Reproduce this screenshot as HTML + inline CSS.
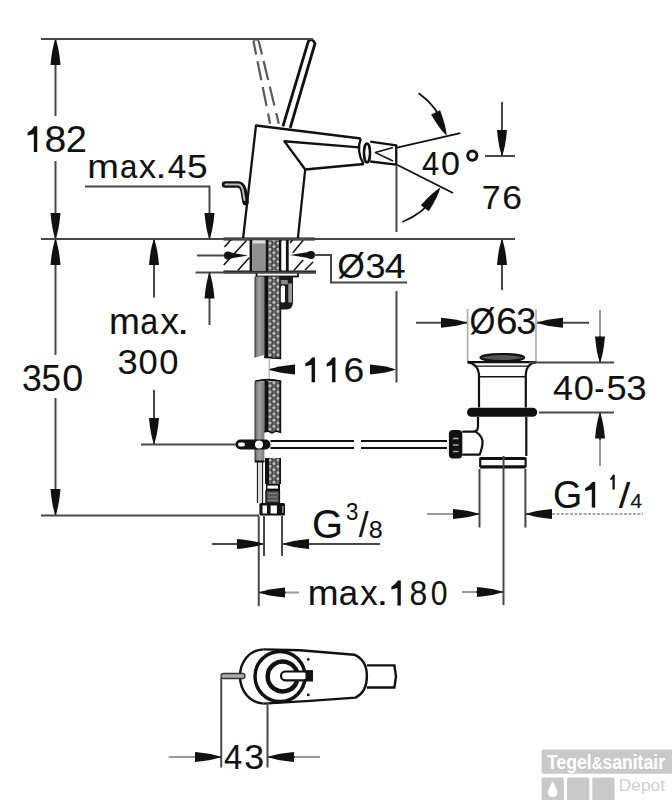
<!DOCTYPE html>
<html><head><meta charset="utf-8"><style>
html,body{margin:0;padding:0;background:#fff;width:672px;height:800px;overflow:hidden}
svg{display:block}
text{font-family:"Liberation Sans",sans-serif;fill:#111;stroke:#111;stroke-width:0.1}
.d{stroke:#484848;stroke-width:2;fill:none}
.o{stroke:#111;fill:none}
.a{fill:#111;stroke:none}
.g1{fill:#111;stroke:#111;stroke-width:0.1;stroke-linejoin:round}
</style></head><body>
<svg width="672" height="800" viewBox="0 0 672 800">

<defs>
<pattern id="kn" x="268" y="0" width="8" height="6.2" patternUnits="userSpaceOnUse">
<rect width="8" height="6.2" fill="#484848"/>
<circle cx="2" cy="1.55" r="1.6" fill="#bdbdbd"/>
<circle cx="6" cy="4.65" r="1.6" fill="#bdbdbd"/>
<circle cx="6" cy="1.55" r="1" fill="#777"/>
<circle cx="2" cy="4.65" r="1" fill="#777"/>
</pattern>
<linearGradient id="rodg" x1="0" x2="1" y1="0" y2="0">
<stop offset="0" stop-color="#6a6a6a"/><stop offset="0.45" stop-color="#a0a0a0"/><stop offset="1" stop-color="#7a7a7a"/>
</linearGradient>
</defs>
<!-- ===== lever ===== -->
<g fill="none" stroke="#5a5a5a" stroke-width="2.2" stroke-dasharray="13.8 6.9 19.4 6.9 19.4 7.6 20">
<path d="M253.4 41 L270.1 123.7"/>
<path d="M258.7 41 L278.8 123.7"/>
</g>
<path d="M253.4 41Q256 38 258.7 41" fill="none" stroke="#666" stroke-width="1.8"/>
<path class="o" d="M282.9 126.4L308.3 41.4Q312 37 315 43.5L290.2 127.8" stroke-width="2.8"/>
<!-- ===== faucet body ===== -->
<g class="o" stroke-width="2.3" stroke-linejoin="round">
<path d="M243 239L256 125.5L360.8 138.5"/>
<path d="M359 147.4L284.4 141.25L305.2 169.5L364 164"/>
<path d="M305.2 169.5L297.8 239"/>
<path d="M360.8 138.5Q356 151 363.5 164"/>
<path d="M370.2 141.7L396.25 145.3L396.25 164.6L370.2 161.5"/>
<path d="M393 147.4L375.4 152.6L393 161" stroke-width="1.6"/>
</g>
<ellipse cx="367" cy="153" rx="3" ry="9.5" fill="none" stroke="#111" stroke-width="2.6"/>
<!-- angle lines -->
<g class="o" stroke-width="1.8">
<path d="M397 147.6L460.3 133.1"/>
<path d="M397 164.8L453 193"/>
<path d="M418.6 93.2Q439 108 444 128"/>
<path d="M402.3 222Q424 213 434 197"/>
</g>
<!-- pop-up knob hook -->
<path d="M225 184.5H238.5Q242 185 243.5 190L245.5 202" fill="none" stroke="#111" stroke-width="6.5" stroke-linecap="round"/>
<path d="M225.5 184.5H238.5Q241.5 185 242.8 190L244.5 200" fill="none" stroke="#bbb" stroke-width="2" stroke-linecap="round"/>
<!-- ===== deck hatch blocks ===== -->
<g class="o" stroke-width="1.5">
<path d="M224.4 247L231 239.7M223.7 265L246.5 240.4M237.8 270.5L249.2 257.8"/>
<path d="M292.8 252.7L303.2 240.2M293.8 270.4L303.2 260M305 270L313 262M290 243L293 239.5"/>
</g>
<g class="o" stroke-width="2.8">
<path d="M223.5 239H315M223.5 272H316"/>
<path d="M251 239V272M287.3 239V272"/>
</g>
<circle cx="228" cy="255.5" r="4.1" class="a"/>
<path class="a" d="M226 251.8L248 255.5L226 259.2Z"/>
<circle cx="311" cy="255" r="4.1" class="a"/>
<path class="a" d="M313 251.3L290 255L313 258.7Z"/>
<!-- shank in deck -->
<rect x="252.7" y="240.5" width="13" height="30" fill="#8f8f8f"/>
<rect x="252.7" y="240.5" width="13" height="3" fill="#ddd"/>
<rect x="268.3" y="240.5" width="11" height="30" fill="url(#kn)"/>
<path d="M267 239V272M280.3 239V272" stroke="#111" stroke-width="2.6"/>
<rect x="281.5" y="242" width="3.5" height="28" fill="#fff"/>
<!-- washer -->
<rect x="256.5" y="272.5" width="41.5" height="4" fill="#fff" stroke="#111" stroke-width="1.8"/>
<!-- shank below deck -->
<path d="M255 276.5H264.3V355L255 357.5Z" fill="url(#rodg)"/>
<path d="M255 276.5V357.5" stroke="#333" stroke-width="1"/>
<rect x="264.3" y="276.5" width="4.2" height="81.5" fill="#111"/>
<rect x="268.5" y="276.5" width="11.3" height="81.5" fill="url(#kn)"/>
<rect x="279.6" y="276.5" width="1.6" height="81.5" fill="#111"/>
<path d="M264.3 357.5L281.2 358.5" stroke="#111" stroke-width="1.4"/>
<!-- pop-up guide -->
<path d="M279.5 276.5H293V302Q293 309.6 286 309.6H279.5Z" fill="#1a1a1a"/>
<rect x="280.8" y="280" width="7" height="4.3" fill="#888"/>
<rect x="280.8" y="285.4" width="4.2" height="17" rx="1.5" fill="#fff"/>
<rect x="288.3" y="283.5" width="3.7" height="19" fill="#9a9a9a"/>
<!-- break line -->
<path d="M269.25 358V380" stroke="#bbb" stroke-width="1.5"/>
<!-- hose after break -->
<path d="M255 381.5Q268 378 281.2 381.5" stroke="#111" stroke-width="2.2" fill="none"/>
<path d="M255 381.5H264.4V462H255Z" fill="url(#rodg)"/>
<path d="M255 381.5V462" stroke="#333" stroke-width="1"/>
<rect x="264.4" y="381" width="3.6" height="51" fill="#111"/>
<rect x="268" y="381.5" width="12" height="50.5" fill="url(#kn)"/>
<rect x="279.6" y="381" width="1.6" height="51" fill="#111"/>
<path d="M264.4 432L268 431L272 433L276 431L281.2 432.5" stroke="#111" stroke-width="1.4" fill="none"/>
<!-- narrow tube below knob -->
<path d="M257.5 462V503M262.5 462V503" stroke="#222" stroke-width="1.3"/>
<rect x="258.2" y="462" width="3.6" height="41" fill="#ddd"/>
<path d="M255 461.5H264.4" stroke="#111" stroke-width="2"/>
<rect x="265" y="458" width="4" height="26" fill="#111"/>
<rect x="269" y="458" width="11" height="26" fill="url(#kn)"/>
<rect x="279.4" y="458" width="1.6" height="26" fill="#111"/>
<rect x="266" y="484" width="14" height="6.5" fill="#111"/>
<rect x="267.5" y="485.6" width="10.5" height="3" fill="#fff"/>
<rect x="266" y="490.5" width="13.4" height="12.5" fill="#555" stroke="#111" stroke-width="1.4"/>
<path d="M268.5 493.5H277M268.5 497H277M268.5 500.5H277" stroke="#888" stroke-width="1.2"/>
<rect x="259.4" y="503" width="25.6" height="12.6" fill="#111" rx="1.5"/>
<rect x="262.5" y="505.5" width="4.5" height="8" fill="#fff"/>
<rect x="270.6" y="505.5" width="6.3" height="8" fill="#fff"/>
<rect x="282" y="506" width="1.6" height="7" fill="#888"/>
<!-- rod knob -->
<path d="M270.5 441H447M270.5 448H447" stroke="#111" stroke-width="1.8"/>
<rect x="354" y="438" width="7" height="14" fill="#fff"/>
<rect x="235.5" y="439.5" width="35" height="10" rx="5" fill="#111"/>
<rect x="238" y="442.6" width="7" height="4" rx="2" fill="#fff"/>
<circle cx="259" cy="444.5" r="4" fill="#fff"/>
<!-- ===== drain ===== -->
<path d="M467.6 309V362M536 309V362" stroke="#aaa" stroke-width="1.6"/>
<ellipse cx="502.3" cy="357.6" rx="21.8" ry="3.6" fill="#555" stroke="#111" stroke-width="2.2"/>
<g class="o" stroke-width="2.2">
<path d="M467.6 362.1H536"/>
<path d="M467.6 362.1Q478 364 479 374.2V407.5M536 362.1Q526 364 525.8 374.2V407.5"/>
<path d="M475 366.2H530" stroke-width="1.2"/>
<path d="M479 376.7H525.8" stroke-width="1.6"/>
<path d="M478 417V426.4Q478 431.6 473 431.6H462.3M462.3 454.6H479.4M475.7 431.6Q484 437 482.4 445Q481 452 479.4 455.4"/>
<path d="M526.3 417V456"/>
<path d="M480.2 457.6V467.3M525.6 457.6V467.3"/>
</g>
<rect x="467" y="407.7" width="70.2" height="9" rx="4.5" fill="#111"/>
<path d="M480.2 458.5H525.6M480.2 466.8H525.6" stroke="#111" stroke-width="3.2"/>
<rect x="448.9" y="430" width="13.4" height="28.4" rx="4" fill="#111"/>
<path d="M453 438.5H458.5M453 445H458.5M453 451.5H458.5" stroke="#aaa" stroke-width="1.6"/>
<!-- ===== top view ===== -->
<g class="o" stroke-width="2.4">
<path d="M263.5 649.4C249 650 240 662 240 676.3C240 691 250 703 263.5 703.6"/>
<path d="M263.5 649.4L300 650.3L354.2 654.7Q366.9 660 366.9 676.2Q366.9 692 355.5 697.6L310 700.9L263.5 703.6"/>
<path d="M366.9 665.4H394.4L396 676.5L394.4 687.5H366.9"/>
</g>
<circle cx="280" cy="676.5" r="25" fill="none" stroke="#111" stroke-width="3.5"/>
<path d="M297 672A15 15 0 1 0 297 681" fill="none" stroke="#111" stroke-width="4.5"/>
<rect x="281" y="671.5" width="27" height="8.8" rx="4.4" fill="#fff" stroke="#111" stroke-width="2.2"/>
<rect x="305.5" y="670.1" width="7.5" height="11.4" fill="#111"/>
<circle cx="308.3" cy="659.4" r="1.4" fill="#111"/>
<circle cx="308.3" cy="694.9" r="1.4" fill="#111"/>
<rect x="221" y="673.5" width="24" height="5" rx="2.5" fill="#aaa" stroke="#333" stroke-width="1.3"/>
<!-- ===== watermark ===== -->
<rect x="541.6" y="749.5" width="140" height="24.3" rx="2" fill="#c9c9c9"/>
<text x="547" y="768.5" font-size="20" font-weight="bold" fill="#fff" style="fill:#fff;stroke:none" textLength="118" lengthAdjust="spacingAndGlyphs">Tegel<tspan font-size="17">&amp;</tspan>sanitair</text>
<rect x="541.6" y="777.6" width="22.2" height="30" rx="1.5" fill="#c9c9c9"/>
<rect x="567" y="777.6" width="22.2" height="30" rx="1.5" fill="#c9c9c9"/>
<rect x="592.3" y="777.6" width="22.2" height="30" rx="1.5" fill="#c9c9c9"/>
<path d="M552.7 781Q549 788 548 791.5A4.8 4.8 0 1 0 557.4 791.5Q556.4 788 552.7 781Z" fill="#fff"/>
<text x="618.8" y="790.7" font-size="16.5" fill="#cfcfcf" style="fill:#cfcfcf;stroke:none" textLength="46.2" lengthAdjust="spacingAndGlyphs">Depot</text>

<!-- ===== dimension lines ===== -->
<g class="d">
<path d="M41 39H313"/>
<path d="M41 239H515"/>
<path d="M41 515.5H259"/>
<path d="M141 444.5H236"/>
<!-- 182/350 vertical -->
<path d="M55.5 39V116M55.5 161V355M55.5 398V515"/>
<!-- max 300 -->
<path d="M154 239V297.5M154 390V444"/>
<!-- max 45 -->
<path d="M85 186.5H209.5V239M197 255.5H224M195.5 272.5H316M209.5 272V325"/>
<!-- 76 -->
<path d="M502 102V156M485 156H515M502 239V290"/>
<!-- 116 -->
<path d="M396.5 165V232M396.5 291V382.5M295 369.5H270"/>
<!-- Ø34 leader -->
<path d="M314 255H331V282.5H407"/>
<!-- Ø63 -->
<path d="M416 322.8H467M537 322.8H589"/>
<!-- 40-53 -->
<path d="M529 362.5H614M539 412.5H614M600 336V362M600 413V440"/><path d="M600 310V336M600 440V466" stroke="#999"/>
<!-- G1 1/4 -->
<path d="M453 514H479M526 514H552"/><path d="M427 514H453" stroke="#999"/><path d="M552 514H643" stroke="#aaa" stroke-dasharray="3 1.5"/>
<!-- G 3/8 -->
<path d="M212 544H263M283 544H380M258.75 516V606M264 516V556M282 516V556"/>
<!-- max 180 -->
<path d="M259 592.5H286M476 592H503M503.5 456V605M479.5 469V527.5M525.4 469V527.5"/><path d="M286 592.5H299M462 592H476" stroke="#999"/>
<!-- 43 -->
<path d="M221.25 678V767.5M267.5 703V767.5M195 757H221M268 757H295"/><path d="M168.75 757H195M295 757H320" stroke="#999"/>
</g>
<!-- arrows -->
<defs><path id="ah" d="M0 0Q3.4 8 5 26L-5 26Q-3.4 8 0 0Z"/></defs>
<g class="a">
<use href="#ah" transform="translate(55.5 39) rotate(0)"/>
<use href="#ah" transform="translate(55.5 239) rotate(180)"/>
<use href="#ah" transform="translate(55.5 239) rotate(0)"/>
<use href="#ah" transform="translate(55.5 515) rotate(180)"/>
<use href="#ah" transform="translate(154 239) rotate(0)"/>
<use href="#ah" transform="translate(154 444) rotate(180)"/>
<use href="#ah" transform="translate(209.5 239) rotate(180)"/>
<use href="#ah" transform="translate(209.5 272.5) rotate(0)"/>
<use href="#ah" transform="translate(502 156) rotate(180)"/>
<use href="#ah" transform="translate(502 239) rotate(0)"/>
<use href="#ah" transform="translate(269 369.5) rotate(-90)"/>
<use href="#ah" transform="translate(396 369.5) rotate(90)"/>
<use href="#ah" transform="translate(467 322.8) rotate(90)"/>
<use href="#ah" transform="translate(537 322.8) rotate(-90)"/>
<use href="#ah" transform="translate(600 362.5) rotate(180)"/>
<use href="#ah" transform="translate(600 412.5) rotate(0)"/>
<use href="#ah" transform="translate(479 514) rotate(90)"/>
<use href="#ah" transform="translate(526 514) rotate(-90)"/>
<use href="#ah" transform="translate(263 544) rotate(90)"/>
<use href="#ah" transform="translate(283 544) rotate(-90)"/>
<use href="#ah" transform="translate(259 592.5) rotate(-90)"/>
<use href="#ah" transform="translate(503 592) rotate(90)"/>
<use href="#ah" transform="translate(221 757) rotate(90)"/>
<use href="#ah" transform="translate(268 757) rotate(-90)"/>
<use href="#ah" transform="translate(446.7 135.8) rotate(154.75)"/>
<use href="#ah" transform="translate(440.4 187.5) rotate(36.9)"/>
</g>
<!-- ===== texts ===== -->
<path class="g1" d="M34.39 126.30H37.20V151.90H33.90V133.98L27.70 135.52V132.57Q31.42 130.91 34.39 126.30Z"/>
<text transform="translate(44.44 151.54) scale(1.086 1)" font-size="36.06">8</text>
<text transform="translate(65.70 151.54) scale(1.054 1)" font-size="36.06">2</text>
<text transform="translate(87.33 177.77) scale(1.162 1)" font-size="32.71">m</text>
<text transform="translate(119.90 177.77) scale(0.953 1)" font-size="32.71">a</text>
<text transform="translate(138.78 177.77) scale(1.060 1)" font-size="32.71">x</text>
<text transform="translate(167.66 177.77) scale(1.021 1)" font-size="32.71">4</text>
<text transform="translate(187.12 177.77) scale(1.133 1)" font-size="32.71">5</text>
<text transform="translate(155.47 177.77) scale(1.200 1)" font-size="32.71">.</text>
<text transform="translate(421.93 175.36) scale(0.907 1)" font-size="33.94">4</text>
<text transform="translate(441.04 175.36) scale(1.005 1)" font-size="33.94">0</text>
<circle cx="472.3" cy="155.6" r="4.6" fill="none" stroke="#111" stroke-width="2.9"/>
<text transform="translate(481.81 209.26) scale(0.997 1)" font-size="33.94">7</text>
<text transform="translate(502.23 209.26) scale(1.044 1)" font-size="33.94">6</text>
<text transform="translate(337.16 278.02) scale(1.013 1)" font-size="35.00">Ø</text>
<text transform="translate(365.56 278.02) scale(1.027 1)" font-size="35.00">3</text>
<text transform="translate(384.76 278.02) scale(1.074 1)" font-size="35.00">4</text>
<text transform="translate(108.89 333.83) scale(1.016 1)" font-size="36.55">m</text>
<text transform="translate(140.25 333.83) scale(0.880 1)" font-size="36.55">a</text>
<text transform="translate(160.14 333.83) scale(1.030 1)" font-size="36.55">x</text>
<text transform="translate(176.95 333.83) scale(1.200 1)" font-size="36.55">.</text>
<text transform="translate(117.44 374.05) scale(1.054 1)" font-size="34.51">3</text>
<text transform="translate(138.42 374.05) scale(1.000 1)" font-size="34.51">0</text>
<text transform="translate(159.32 374.05) scale(1.000 1)" font-size="34.51">0</text>
<text transform="translate(21.88 390.73) scale(0.963 1)" font-size="36.90">3</text>
<text transform="translate(41.60 390.73) scale(0.947 1)" font-size="36.90">5</text>
<text transform="translate(62.29 390.73) scale(1.021 1)" font-size="36.90">0</text>
<path class="g1" d="M312.15 357.40H314.95V382.20H311.65V364.84L305.30 366.33V363.48Q309.11 361.86 312.15 357.40Z"/>
<path class="g1" d="M332.60 357.60H335.40V382.20H332.10V364.98L326.70 366.46V363.63Q329.94 362.03 332.60 357.60Z"/>
<text transform="translate(343.43 382.05) scale(1.083 1)" font-size="34.51">6</text>
<text transform="translate(469.59 334.48) scale(0.905 1)" font-size="36.76">Ø</text>
<text transform="translate(495.97 334.48) scale(1.053 1)" font-size="36.76">6</text>
<text transform="translate(516.15 334.48) scale(0.984 1)" font-size="36.76">3</text>
<text transform="translate(553.10 399.84) scale(1.006 1)" font-size="35.77">4</text>
<text transform="translate(573.85 399.84) scale(1.012 1)" font-size="35.77">0</text>
<text transform="translate(594.34 399.84) scale(0.844 1)" font-size="35.77">-</text>
<text transform="translate(606.55 399.84) scale(1.012 1)" font-size="35.77">5</text>
<text transform="translate(626.24 399.84) scale(1.023 1)" font-size="35.77">3</text>
<text transform="translate(307.70 605.35) scale(1.051 1)" font-size="35.21">m</text>
<text transform="translate(338.84 605.35) scale(0.986 1)" font-size="35.21">a</text>
<text transform="translate(360.18 605.35) scale(0.991 1)" font-size="35.21">x</text>
<text transform="translate(409.56 605.35) scale(0.906 1)" font-size="35.21">8</text>
<text transform="translate(430.70 605.35) scale(0.855 1)" font-size="35.21">0</text>
<text transform="translate(376.50 605.35) scale(1.200 1)" font-size="35.21">.</text>
<path class="g1" d="M398.00 580.60H400.80V605.40H397.50V588.04L391.40 589.53V586.68Q395.06 585.06 398.00 580.60Z"/>
<text transform="translate(223.98 769.15) scale(0.950 1)" font-size="34.51">4</text>
<text transform="translate(244.27 769.15) scale(1.036 1)" font-size="34.51">3</text>
<text transform="translate(552.92 507.90) scale(0.983 1)" font-size="38.20">G</text>
<path class="g1" d="M592.35 481.90H595.15V507.40H591.85V489.55L585.20 491.08V488.15Q589.19 486.49 592.35 481.90Z"/>
<path class="g1" d="M612.83 474.80H614.70V489.60H612.50V479.24L610.30 480.13V478.43Q611.62 477.46 612.83 474.80Z"/>
<text transform="translate(618.70 508.04) scale(1.163 1)" font-size="35.65">/</text>
<text transform="translate(630.37 507.60) scale(1.055 1)" font-size="20.29">4</text>
<text transform="translate(312.11 537.80) scale(1.000 1)" font-size="39.86">G</text>
<text transform="translate(346.01 520.06) scale(0.919 1)" font-size="24.08">3</text>
<text transform="translate(358.80 537.05) scale(0.997 1)" font-size="35.37">/</text>
<text transform="translate(368.87 537.97) scale(1.087 1)" font-size="23.10">8</text>
</svg>
</body></html>
